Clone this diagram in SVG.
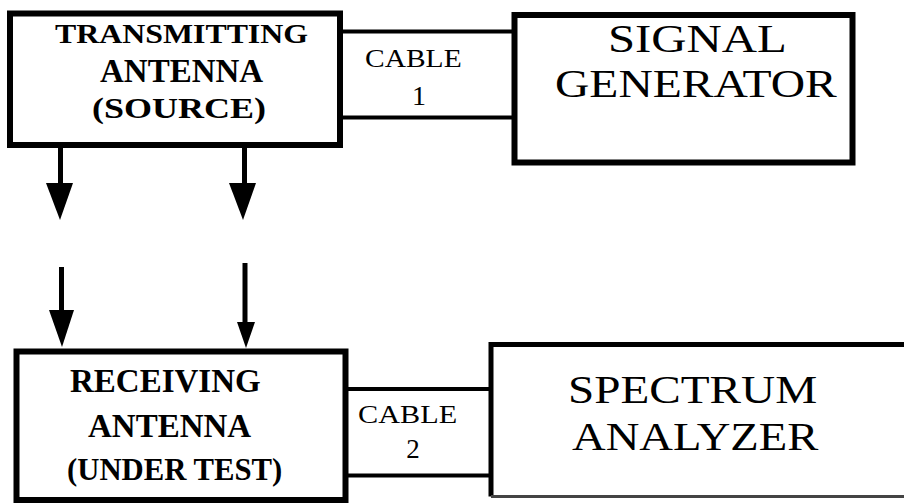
<svg xmlns="http://www.w3.org/2000/svg" width="904" height="503" viewBox="0 0 904 503">
  <style>
    .box { fill: #fff; stroke: #000; stroke-width: 6; }
    .wire { fill: none; stroke: #000; stroke-width: 4; }
    .shaft { fill: none; stroke: #000; stroke-width: 5; }
    .head { fill: #000; stroke: none; }
    text { font-family: "Liberation Serif", "Times New Roman", "DejaVu Serif", serif; fill: #000; }
    .bold { font-weight: bold; }
  </style>
  <rect x="0" y="0" width="904" height="503" fill="#fff"/>

  <!-- Transmitting antenna -->
  <g id="tx-antenna">
    <rect class="box" x="10" y="13.5" width="330" height="131.5"/>
    <text class="bold" transform="translate(55,43) scale(1.18,1)" font-size="27">TRANSMITTING</text>
    <text class="bold" x="100" y="82" font-size="33">ANTENNA</text>
    <text class="bold" transform="translate(92,118) scale(1.2,1)" font-size="30">(SOURCE)</text>
  </g>

  <!-- Signal generator -->
  <g id="signal-generator">
    <rect class="box" x="514.5" y="15" width="338" height="147.5" stroke-width="5"/>
    <text transform="translate(608,52) scale(1.19,1)" font-size="41">SIGNAL</text>
    <text transform="translate(555,97) scale(1.16,1)" font-size="41">GENERATOR</text>
  </g>

  <!-- Cable 1 -->
  <g id="cable-1">
    <line class="wire" x1="340" y1="31.5" x2="514" y2="31.5"/>
    <line class="wire" x1="340" y1="117.5" x2="514" y2="117.5"/>
    <text transform="translate(365,67) scale(1.18,1)" font-size="25">CABLE</text>
    <text x="419" y="105" font-size="28" text-anchor="middle">1</text>
  </g>

  <!-- Receiving antenna -->
  <g id="rx-antenna">
    <rect class="box" x="16.5" y="351.5" width="329" height="148.5"/>
    <text class="bold" x="70" y="392" font-size="33">RECEIVING</text>
    <text class="bold" x="88" y="437" font-size="33">ANTENNA</text>
    <text class="bold" transform="translate(67,480) scale(0.96,1)" font-size="32">(UNDER TEST)</text>
  </g>

  <!-- Spectrum analyzer (runs past the right edge) -->
  <g id="spectrum-analyzer">
    <rect x="491" y="344.5" width="430" height="152" fill="#fff"/>
    <path d="M915 344.5 H491 V496.5" fill="none" stroke="#000" stroke-width="5"/>
    <line x1="491" y1="496.5" x2="915" y2="496.5" stroke="#444" stroke-width="3"/>
    <text transform="translate(568,403) scale(1.18,1)" font-size="40">SPECTRUM</text>
    <text transform="translate(572,450) scale(1.165,1)" font-size="40">ANALYZER</text>
  </g>

  <!-- Cable 2 -->
  <g id="cable-2">
    <line class="wire" x1="345" y1="389" x2="491" y2="389" stroke-width="5"/>
    <line class="wire" x1="345" y1="475.5" x2="491" y2="475.5"/>
    <text transform="translate(358,423) scale(1.21,1)" font-size="25">CABLE</text>
    <text x="413" y="458" font-size="27" text-anchor="middle">2</text>
  </g>

  <!-- Radiated signal arrows -->
  <g id="connectors">
    <line class="shaft" x1="60.5" y1="147" x2="60.5" y2="185"/>
    <polygon class="head" points="46,183 73,183 60,220"/>
    <line class="shaft" x1="244.5" y1="147" x2="244.5" y2="185"/>
    <polygon class="head" points="229,183 256,183 243,220"/>
    <line class="shaft" x1="61.5" y1="267" x2="61.5" y2="312"/>
    <polygon class="head" points="49,310 74,310 62,347"/>
    <line class="shaft" x1="245" y1="263" x2="245" y2="324"/>
    <polygon class="head" points="237,322 255,322 246,348"/>
  </g>
</svg>
